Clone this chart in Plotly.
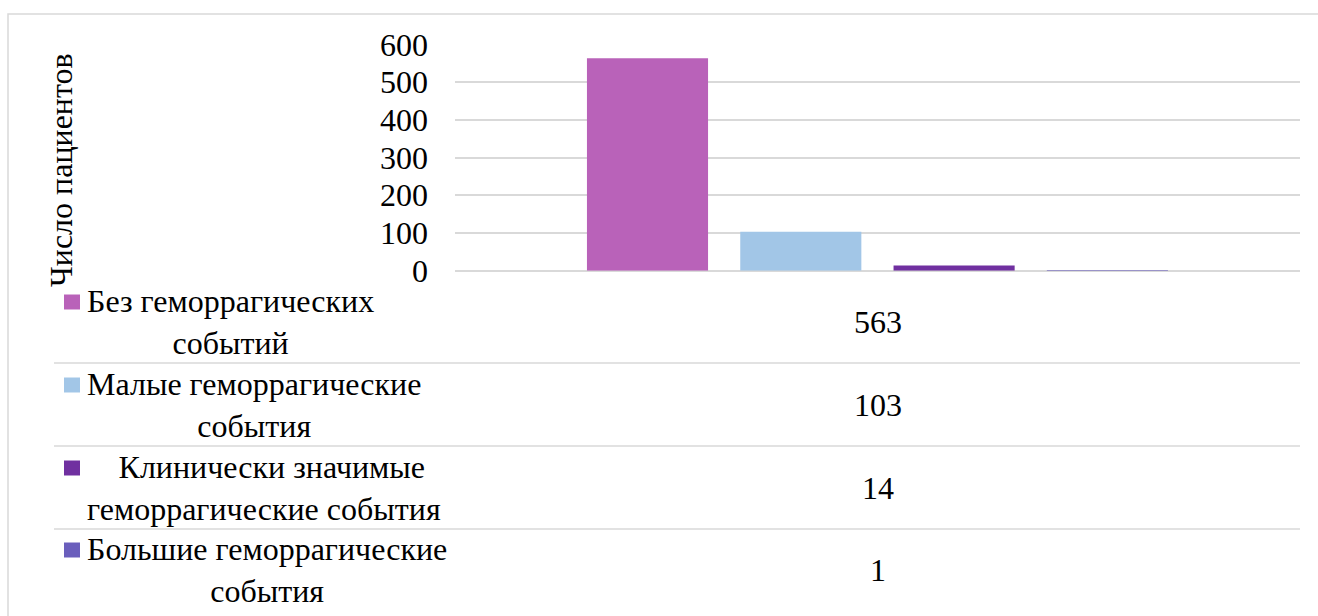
import plotly.graph_objects as go

# ---- data ----
categories = ["Без геморрагических<br>событий",
              "Малые геморрагические<br>события",
              "  Клинически значимые<br>геморрагические события",
              "Большие геморрагические<br>события"]
values = [563, 103, 14, 1]
colors = ["#B962B9", "#A2C6E7", "#7030A0", "#6A5EBC"]
y_ticks = [0, 100, 200, 300, 400, 500, 600]
y_title = "Число пациентов"

W, H = 1318, 616
def px(x):
    return x / W
def py(y):
    return 1 - y / H

FONT = "Liberation Serif"
FS = 32
GRID = "#D9D9D9"

fig = go.Figure()
fig.add_trace(go.Bar(
    x=list(range(len(values))),
    y=values,
    width=0.79,
    marker=dict(color=colors, line=dict(width=0)),
    showlegend=False,
    hoverinfo="y",
))

# plot area in pixels
pl, pr, pt, pb = 455, 1300, 44.3, 270.7
step = 153.3
first_center = 647.5
left_r = -(first_center - pl) / step
right_r = (len(values) - 1) + (pr - (first_center + step * (len(values) - 1))) / step

fig.update_layout(
    width=W, height=H,
    margin=dict(l=0, r=0, t=0, b=0, pad=0, autoexpand=False),
    paper_bgcolor="white", plot_bgcolor="white",
    xaxis=dict(domain=[px(pl), px(pr)], range=[left_r, right_r],
               showticklabels=False, showgrid=False, zeroline=False,
               showline=False, fixedrange=True, automargin=False),
    yaxis=dict(domain=[py(pb), py(pt)], range=[0, 600],
               tickvals=y_ticks, ticktext=[str(v) for v in y_ticks],
               showgrid=True, gridcolor=GRID, gridwidth=1.5,
               zeroline=True, zerolinecolor=GRID, zerolinewidth=1.5,
               showline=False, ticks="", ticklabelstandoff=26,
               tickfont=dict(family=FONT, size=FS, color="black"),
               fixedrange=True, automargin=False),
)

shapes = []
# outer chart border
shapes.append(dict(type="rect", xref="paper", yref="paper",
                   x0=px(8), x1=px(1325), y0=py(14), y1=py(625),
                   line=dict(color=GRID, width=1.5), fillcolor="rgba(0,0,0,0)",
                   layer="below"))
# table row separators
for yy in [363, 446, 529]:
    shapes.append(dict(type="line", xref="paper", yref="paper",
                       x0=px(54), x1=px(pr), y0=py(yy), y1=py(yy),
                       line=dict(color=GRID, width=1.5)))

annotations = []
row_centers = [322, 405, 488, 570]
line_h = 40
for cat, val, col, rc in zip(categories, values, colors, row_centers):
    annotations.append(dict(xref="paper", yref="paper", x=px(85), y=py(rc),
                            xanchor="left", yanchor="middle", align="center",
                            text=cat, showarrow=False,
                            font=dict(family=FONT, size=FS, color="black")))
    annotations.append(dict(xref="paper", yref="paper", x=px((pl + pr) / 2), y=py(rc),
                            xanchor="center", yanchor="middle",
                            text=str(val), showarrow=False,
                            font=dict(family=FONT, size=FS, color="black")))
    sq_c = rc - line_h / 2
    shapes.append(dict(type="rect", xref="paper", yref="paper",
                       x0=px(64), x1=px(80), y0=py(sq_c + 7.5), y1=py(sq_c - 7.5),
                       fillcolor=col, line=dict(width=0)))

annotations.append(dict(xref="paper", yref="paper", x=px(61), y=py(170),
                        xanchor="center", yanchor="middle", textangle=-90,
                        text=y_title, showarrow=False,
                        font=dict(family=FONT, size=FS, color="black")))

fig.update_layout(shapes=shapes, annotations=annotations)
fig.write_html("out.html")
